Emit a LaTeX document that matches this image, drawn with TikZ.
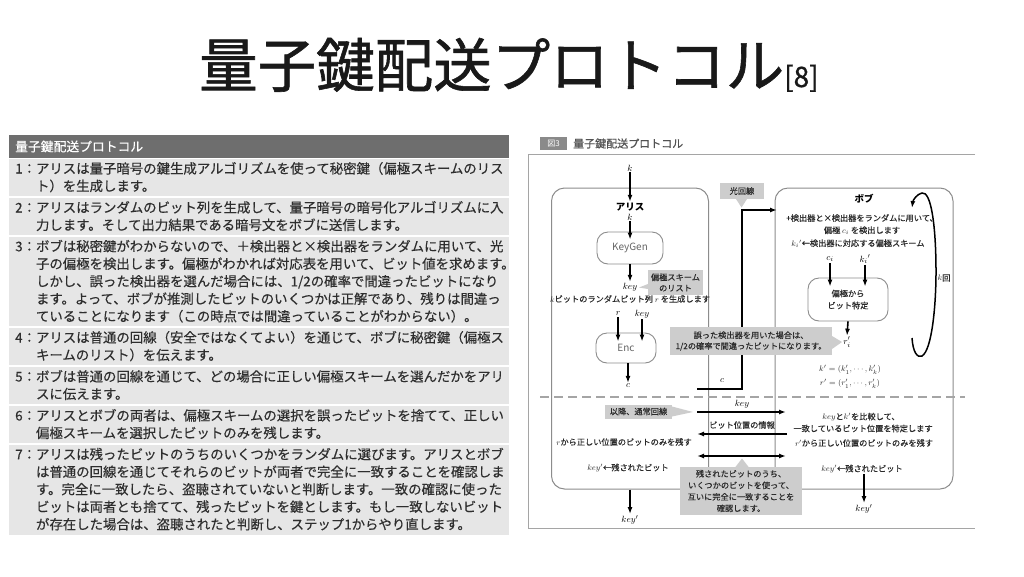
\documentclass[tikz,border=0pt]{standalone}
\usepackage{fontspec}
\setmainfont{Noto Sans CJK JP}
\newfontfamily\titlefont{Noto Sans CJK JP}[FakeBold=1.0]
\newfontfamily\tabfont{Noto Sans CJK JP}[FakeBold=0.35]
\newfontfamily\dgfont{Noto Sans CJK JP}[FakeBold=0.3]
\usetikzlibrary{arrows.meta,calc}
\definecolor{hdr}{HTML}{6E6E6E}
\definecolor{rowbg}{HTML}{E6E6E6}
\definecolor{txt}{HTML}{2E2E2E}
\definecolor{dtxt}{HTML}{2A2A2A}
\definecolor{boxln}{HTML}{8C8C8C}
\definecolor{callg}{HTML}{CDCDCD}
\definecolor{frameg}{HTML}{A5A5A5}
\definecolor{figg}{HTML}{8A8A8A}
\definecolor{keyg}{HTML}{666666}
\tikzset{
 tl/.style={anchor=base west, inner sep=0pt, text=txt, font=\tabfont\fontsize{13.4}{16}\selectfont},
 dt/.style={inner sep=0.5pt, text=dtxt, font=\dgfont\fontsize{8.2}{10}\selectfont},
 mi/.style={inner sep=1pt, text=black, font=\fontsize{9.5}{10}\selectfont},
 bt/.style={inner sep=1pt, text=black, font={\fontsize{9.5}{11}\selectfont\bfseries}},
 rbox/.style={draw=boxln, line width=0.9pt, rounded corners=11pt, inner sep=0pt, text=keyg, font=\fontsize{10}{12}\selectfont, align=center},
 bigbox/.style={draw=boxln, line width=1pt, rounded corners=13pt, inner sep=0pt},
 call/.style={fill=callg, inner sep=0pt, text=dtxt, font=\dgfont\fontsize{8.2}{10.8}\selectfont, align=center},
 arr/.style={line width=1.6pt, -{Latex[length=7pt,width=5pt]}, draw=black},
 darr/.style={line width=1.6pt, {Latex[length=7pt,width=5pt]}-{Latex[length=7pt,width=5pt]}, draw=black},
}
\begin{document}
\begin{tikzpicture}[x=1pt,y=-1pt]
\useasboundingbox (0,0) rectangle (1024,576);
\fill[white] (0,0) rectangle (1024,576);

% ---------- title ----------
\node[anchor=base west, inner sep=0pt, text=black!90] (title) at (199,87)
  {\titlefont\fontsize{58.5}{60}\selectfont 量子鍵配送プロトコル\fontsize{28}{30}\selectfont[8]};

% ---------- table ----------
\fill[hdr] (9,135) rectangle (509,157.5);
\node[anchor=west, inner sep=0pt, text=white, font=\tabfont\fontsize{12.8}{14}\selectfont] (thead) at (15,146.5) {量子鍵配送プロトコル};
\fill[rowbg] (9,159) rectangle (509,196);
\fill[rowbg] (9,198) rectangle (509,235);
\fill[rowbg] (9,237) rectangle (509,326);
\fill[rowbg] (9,328) rectangle (509,365);
\fill[rowbg] (9,367) rectangle (509,404);
\fill[rowbg] (9,406) rectangle (509,443);
\fill[rowbg] (9,445) rectangle (509,535);

\node[tl] (r1a) at (15,173.5) {1：アリスは量子暗号の鍵生成アルゴリズムを使って秘密鍵（偏極スキームのリス};
\node[tl] (r1b) at (15,191) {\phantom{1：}ト）を生成します。};
\node[tl] (r2a) at (15,212.5) {2：アリスはランダムのビット列を生成して、量子暗号の暗号化アルゴリズムに入};
\node[tl] (r2b) at (15,230) {\phantom{2：}力します。そして出力結果である暗号文をボブに送信します。};
\node[tl] (r3a) at (15,251.3) {3：ボブは秘密鍵がわからないので、＋検出器と×検出器をランダムに用いて、光};
\node[tl] (r3b) at (15,268.8) {\phantom{3：}子の偏極を検出します。偏極がわかれば対応表を用いて、ビット値を求めます。};
\node[tl] (r3c) at (15,286.3) {\phantom{3：}しかし、誤った検出器を選んだ場合には、1/2の確率で間違ったビットになり};
\node[tl] (r3d) at (15,303.8) {\phantom{3：}ます。よって、ボブが推測したビットのいくつかは正解であり、残りは間違っ};
\node[tl] (r3e) at (15,321.3) {\phantom{3：}ていることになります（この時点では間違っていることがわからない）。};
\node[tl] (r4a) at (15,342.5) {4：アリスは普通の回線（安全ではなくてよい）を通じて、ボブに秘密鍵（偏極ス};
\node[tl] (r4b) at (15,360) {\phantom{4：}キームのリスト）を伝えます。};
\node[tl] (r5a) at (15,381.5) {5：ボブは普通の回線を通じて、どの場合に正しい偏極スキームを選んだかをアリ};
\node[tl] (r5b) at (15,399) {\phantom{5：}スに伝えます。};
\node[tl] (r6a) at (15,420.5) {6：アリスとボブの両者は、偏極スキームの選択を誤ったビットを捨てて、正しい};
\node[tl] (r6b) at (15,438) {\phantom{6：}偏極スキームを選択したビットのみを残します。};
\node[tl] (r7a) at (15,459.3) {7：アリスは残ったビットのうちのいくつかをランダムに選びます。アリスとボブ};
\node[tl] (r7b) at (15,476.8) {\phantom{7：}は普通の回線を通じてそれらのビットが両者で完全に一致することを確認しま};
\node[tl] (r7c) at (15,494.3) {\phantom{7：}す。完全に一致したら、盗聴されていないと判断します。一致の確認に使った};
\node[tl] (r7d) at (15,511.8) {\phantom{7：}ビットは両者とも捨てて、残ったビットを鍵とします。もし一致しないビット};
\node[tl] (r7e) at (15,529.3) {\phantom{7：}が存在した場合は、盗聴されたと判断し、ステップ1からやり直します。};

% ---------- figure header and frame ----------
\node[fill=figg, text=white, minimum width=27pt, minimum height=13pt, inner sep=0pt, font=\fontsize{8}{9}\selectfont] (fig) at (553.5,143.5) {図3};
\node[anchor=west, inner sep=0pt, text=keyg!80!black, font=\dgfont\fontsize{11}{12}\selectfont] (ftitle) at (573,143.5) {量子鍵配送プロトコル};
\draw[frameg, line width=1pt] (975,154.5) -- (528.5,154.5) -- (528.5,528) -- (975,528);

% ---------- big boxes ----------
\node[bigbox, minimum width=157pt, minimum height=301pt] (alicebox) at (630,338.5) {};
\node[bigbox, minimum width=178pt, minimum height=301pt] (bobbox) at (864,338.5) {};
\draw[frameg, line width=1.3pt, dash pattern=on 9pt off 5pt] (540,397) -- (965,397);

% ---------- Alice ----------
\node[mi] (kin) at (630,168) {$k$};
\node[bt] (alice) at (630,207) {アリス};
\draw[arr] (kin) -- (alice.north);
\node[mi] (k2) at (630,217) {$k$};
\node[rbox, minimum width=66pt, minimum height=32pt] (keygen) at (630,248) {KeyGen};
\draw[arr, shorten >=-8pt] (k2) -- (keygen.north);
\node[mi] (key) at (630,287) {$key$};
\draw[arr] (keygen.south) -- (key.north);
\node[call, minimum width=55pt, minimum height=25pt] (cpol) at (675.5,282.5) {偏極スキーム\\のリスト};
\fill[callg] (648,284) -- (639,287.5) -- (648,289) -- cycle;
\node[dt] (kbit) at (630,299) {$k$ビットのランダムビット列 $r$ を生成します};
\node[mi] (r) at (618,314) {$r$};
\node[mi] (key2) at (642,314) {$key$};
\node[rbox, minimum width=60pt, minimum height=30pt] (enc) at (626,348) {Enc};
\draw[arr, shorten >=-9pt] (r) -- (r |- enc.north);
\draw[arr, shorten >=-9pt] (key2) -- (key2 |- enc.north);
\node[mi] (c) at (628,386) {$c$};
\draw[arr] (enc.south -| c) -- (c.north);

% ---------- quantum channel ----------
\coordinate (cstart) at (697,389);
\coordinate (cturn) at (742,389);
\coordinate (cup) at (742,210);
\coordinate (bobin) at (777,210);
\draw[arr] (cstart) -- (cturn) -- (cup) -- (bobin);
\node[mi] (clab) at (722,381) {$c$};
\node[call, minimum width=44pt, minimum height=16pt] (opt) at (742,191) {光回線};
\fill[callg] (736,199) -- (741.5,207.5) -- (747,199) -- cycle;

% ---------- Bob ----------
\node[bt] (bob) at (864,199) {ボブ};
\node[dt] (b1) at (862,218) {+検出器と×検出器をランダムに用いて、};
\node[dt] (b2) at (862,230.5) {偏極 $c_i$ を検出します};
\node[dt] (b3) at (858,243.5) {$k_i{}'$←検出器に対応する偏極スキーム};
\node[mi] (ci) at (830,259) {$c_i$};
\node[mi] (ki) at (865,259) {$k_i{}'$};
\node[rbox, minimum width=80pt, minimum height=43pt, text=dtxt, font=\dgfont\fontsize{8.2}{12}\selectfont] (hen) at (848,299.5) {偏極から\\ビット特定};
\draw[arr, shorten >=-9pt] (ci) -- (ci |- hen.north);
\draw[arr, shorten >=-9pt] (ki.south) -- (ki.south |- hen.north);
\node[mi] (ri) at (847,342) {$r_i'$};
\draw[arr] (hen.south) -- (ri.north);
\node[dt, font=\fontsize{8.5}{10}\selectfont] (kvec) at (850,370) {$k' = (k'_1,\cdots,k'_k)$};
\node[dt, font=\fontsize{8.5}{10}\selectfont] (rvec) at (850,384) {$r' = (r'_1,\cdots,r'_k)$};
\coordinate (loopA) at (912,338);
\coordinate (loopB) at (912,208);
\draw[line width=1.5pt, -{Latex[length=7pt,width=5pt]}] (loopA) .. controls (913,352) and (917,358) .. (922,356)
   .. controls (932,350) and (936,305) .. (936,272)
   .. controls (936,225) and (931,191) .. (922,193)
   .. controls (917,194) and (913,200) .. (loopB);
\node[dt] (kkai) at (944,278) {$k$回};

% ---------- callout on wrong detector ----------
\node[call, minimum width=162pt, minimum height=28pt] (cwrong) at (751,341) {誤った検出器を用いた場合は、\\1/2の確率で間違ったビットになります。};
\fill[callg] (832,336) -- (842,342) -- (832,349) -- cycle;

% ---------- classical channel ----------
\node[mi] (keylab) at (742,404) {$key$};
\coordinate (a1) at (697,412); \coordinate (b1e) at (786,412);
\draw[arr] (a1) -- (b1e);
\node[dt] (bitinfo) at (742,425) {ビット位置の情報};
\coordinate (b2s) at (787,434); \coordinate (a2e) at (697,434);
\draw[arr] (b2s) -- (a2e);
\coordinate (a3) at (697,456); \coordinate (b3e) at (786,456);
\draw[darr] (a3) -- (b3e);
\node[call, minimum width=67pt, minimum height=14pt] (cnorm) at (638.5,411.5) {以降、通常回線};
\fill[callg] (672,406.5) -- (693,412) -- (672,416.5) -- cycle;
\node[call, minimum width=122pt, minimum height=48pt, font=\dgfont\fontsize{8.2}{11.5}\selectfont] (crest) at (741,491) {残されたビットのうち、\\いくつかのビットを使って、\\互いに完全に一致することを\\確認します。};
\fill[callg] (735,467.5) -- (742,458.5) -- (749,467.5) -- cycle;

% Alice lower part
\node[dt] (rkeep) at (624,442) {$r$から正しい位置のビットのみを残す};
\node[dt] (akey) at (628,468) {$key'$←残されたビット};
\node[mi] (akeyout) at (630,520) {$key'$};
\draw[arr] (alicebox.south) -- (akeyout.north);

% Bob lower part
\node[dt] (bcmp) at (861,417) {$key$と$k'$を比較して、};
\node[dt] (bspec) at (863,428.5) {一致しているビット位置を特定します};
\node[dt] (brkeep) at (864,443) {$r'$から正しい位置のビットのみを残す};
\node[dt] (bkey) at (862,469) {$key'$←残されたビット};
\node[mi] (bkeyout) at (864,509) {$key'$};
\draw[arr] (bkey.south -| bkeyout) -- (bkeyout.north);
\end{tikzpicture}
\end{document}
